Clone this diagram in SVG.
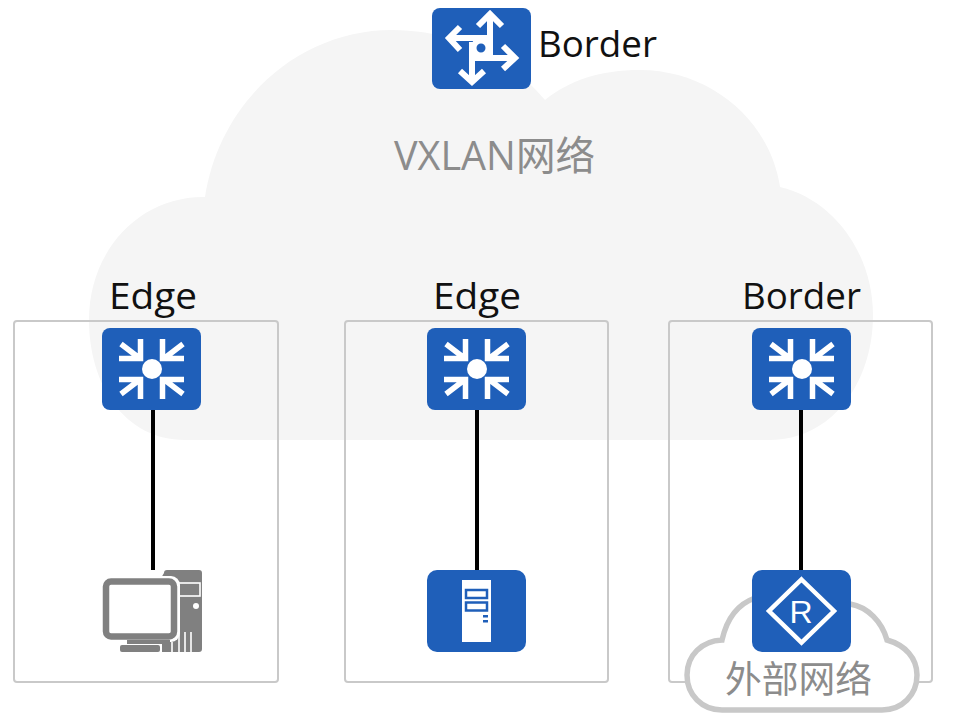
<svg xmlns="http://www.w3.org/2000/svg" width="965" height="721" viewBox="0 0 965 721">
<style>
.lbl{font-family:"Open Sans","Noto Sans","Noto Sans CJK SC",sans-serif;font-size:37px;fill:#111}
.gr{font-family:"Open Sans","Noto Sans CJK SC",sans-serif;font-size:37px;fill:#8c8c8c}
.frame{fill:none;stroke:#c9c9c9;stroke-width:2}
.tile{fill:#1f5fb9}
.w{fill:none;stroke:#fff;stroke-width:5.500}
.wt{fill:#fff}
.conn{stroke:#000;stroke-width:4;fill:none}
</style>
<defs>
<g id="sw">
<rect class="tile" x="-50" y="-41" width="99" height="82" rx="8"/>
<circle class="wt" cx="0" cy="0" r="10"/>
<g class="w">
<path d="M-31-25-14-12M-33-10.500H-11.500V-30"/>
<path d="M31-25 14-12M32-10.500H10.500V-30"/>
<path d="M-31 25-14 12M-33 10.500H-11.500V30"/>
<path d="M31 25 14 12M32 10.500H10.500V30"/>
</g>
</g>
</defs>
<g id="vxlan-cloud">
<path fill="#f5f5f5" d="M185 440C125 440 89 385 89 320C89 250 140 196 205 197C220 100 300 30 392 30C455 30 510 58 545 100C570 80 600 70 640 70C710 70 770 120 780 187C835 200 873 255 873 315C873 385 830 440 770 440Z"/>
<text class="gr" x="394" y="170" style="font-size:40px" textLength="201" lengthAdjust="spacingAndGlyphs">VXLAN网络</text>
</g>
<g id="frame-1"><rect class="frame" x="14" y="321" width="264" height="361" rx="3"/></g>
<g id="frame-2"><rect class="frame" x="345" y="321" width="263" height="361" rx="3"/></g>
<g id="frame-3"><rect class="frame" x="669" y="321" width="263" height="361" rx="3"/></g>
<g id="connectors">
<line class="conn" x1="153" y1="408" x2="153" y2="570"/>
<line class="conn" x1="477" y1="408" x2="477" y2="571"/>
<line class="conn" x1="801" y1="408" x2="801" y2="571"/>
</g>
<g id="border-router">
<rect class="tile" x="432" y="8" width="99" height="81" rx="8"/>
<g fill="none" stroke="#fff" stroke-width="6">
<circle cx="481" cy="48" r="7.500"/>
<path d="M490 16V56M478 26 490 14 502 26"/>
<path d="M450 38H488M460 27 449 38 460 50"/>
<path d="M472 42V81M460 71 472 82 484 71"/>
<path d="M474 58H514M503 46 515 58 503 69"/>
</g>
<text class="lbl" x="538" y="57" textLength="119" lengthAdjust="spacingAndGlyphs">Border</text>
</g>
<g id="edge-1"><use href="#sw" x="152" y="369"/><text class="lbl" x="109" y="309" textLength="88" lengthAdjust="spacingAndGlyphs">Edge</text></g>
<g id="edge-2"><use href="#sw" x="477" y="369"/><text class="lbl" x="433" y="309" textLength="88" lengthAdjust="spacingAndGlyphs">Edge</text></g>
<g id="border-switch"><use href="#sw" x="802" y="369"/><text class="lbl" x="742" y="309" textLength="119" lengthAdjust="spacingAndGlyphs">Border</text></g>
<g id="pc">
<path fill="#808080" d="M164 573Q164 570 167 570H199Q202 570 202 573V649Q202 652 199 652H162V640H172V590Q172 580 161 578Z"/>
<g fill="none" stroke="#fff" stroke-width="1.600">
<rect x="178" y="583" width="22" height="13"/>
<path d="M172 652V642M179 652V633M185 652V632M191 652V632"/>
</g>
<circle cx="196" cy="606" r="3" fill="#fff"/>
<rect x="101" y="576" width="79" height="66" rx="9" class="wt"/>
<rect x="106" y="581.500" width="68" height="55" rx="5" fill="#fff" stroke="#808080" stroke-width="6.500"/>
<rect x="127" y="640" width="43" height="4" fill="#808080"/>
<rect x="120" y="645" width="40" height="7" rx="2" fill="#808080"/>
</g>
<g id="server">
<rect class="tile" x="427" y="570" width="99" height="82" rx="10"/>
<rect class="wt" x="462" y="580" width="29" height="62"/>
<g fill="none" stroke="#1f5fb9" stroke-width="2.500">
<rect x="466" y="590" width="21" height="8"/>
<rect x="466" y="602.500" width="21" height="8"/>
</g>
<rect x="483" y="615" width="5" height="2.500" fill="#1f5fb9"/>
<rect x="483" y="620" width="5" height="2.500" fill="#1f5fb9"/>
</g>
<g id="external-network">
<path fill="#fff" stroke="#c8c8c8" stroke-width="5.500" d="M722 710C702 710 687 695 687 675C687 655 702 641 722 640C727 618 738 604 755 598L850 604C868 607 882 622 887 640C905 645 917 658 917 675C917 695 902 710 882 710Z"/>
<text class="gr" x="725" y="693" textLength="147" lengthAdjust="spacingAndGlyphs">外部网络</text>
</g>
<g id="router">
<rect class="tile" x="752" y="570" width="99" height="82" rx="10"/>
<path d="M801.500 579.500 834 611 801.500 642.500 769 611Z" fill="none" stroke="#fff" stroke-width="4.500"/>
<text x="801" y="623" text-anchor="middle" font-family="Liberation Sans, sans-serif" font-size="32" fill="#fff">R</text>
</g>
</svg>
